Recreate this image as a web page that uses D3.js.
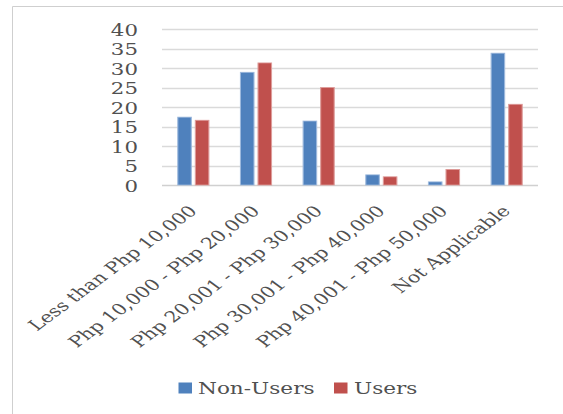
<!DOCTYPE html>
<html>
<head>
<meta charset="utf-8">
<script src="https://cdn.jsdelivr.net/npm/d3@7"></script>
<style>
  html, body { margin: 0; padding: 0; background: #fff; }
  svg { display: block; }
  text { font-family: "DejaVu Serif", serif; fill: #505050; }
</style>
</head>
<body>
<svg id="chart" width="563" height="414"></svg>
<script>
// Monthly income brackets of respondents (%)
const categories = [
  "Less than Php 10,000",
  "Php 10,000 - Php 20,000",
  "Php 20,001 - Php 30,000",
  "Php 30,001 - Php 40,000",
  "Php 40,001 - Php 50,000",
  "Not Applicable"
];
const seriesNames = ["Non-Users", "Users"];
const nonUsers = [17.4, 28.9, 16.4, 2.6, 0.8, 33.8];
const users    = [16.6, 31.3, 25.0, 2.1, 4.0, 20.7];
const yTicks   = [0, 5, 10, 15, 20, 25, 30, 35, 40];
const colors   = ["#4F81BD", "#C0504D"];
const strokes  = ["#9DB9DD", "#DE9C9A"];

const W = 563, H = 414;
const SX = 1.35;              // horizontal stretch of the chart body
const svg = d3.select("#chart");

// outer frame (top and left edges)
svg.append("line").attr("x1", 12.5).attr("x2", W).attr("y1", 6.5).attr("y2", 6.5)
  .attr("stroke", "#cfcfcf");
svg.append("line").attr("x1", 12.5).attr("x2", 12.5).attr("y1", 6.5).attr("y2", H)
  .attr("stroke", "#cfcfcf");

const g = svg.append("g").attr("transform", `scale(${SX},1)`);

const plotLeft = 162 / SX, plotRight = 538 / SX;
const y = d3.scaleLinear().domain([0, 40]).range([185, 29]);
const x0 = d3.scaleBand().domain(categories).range([plotLeft, plotRight]).padding(0);
const x1 = d3.scaleBand().domain(seriesNames).range([0, x0.bandwidth()])
  .paddingInner(0.23).paddingOuter(0.9);

// gridlines
g.append("g").selectAll("line").data(yTicks).join("line")
  .attr("x1", plotLeft).attr("x2", plotRight)
  .attr("y1", d => Math.round(y(d)) + 0.5).attr("y2", d => Math.round(y(d)) + 0.5)
  .attr("stroke", d => d === 0 ? "#d0d0d0" : "#dadada").attr("stroke-width", 1.3);

// y tick labels
g.append("g").selectAll("text").data(yTicks).join("text")
  .attr("x", 138 / SX).attr("y", d => y(d))
  .attr("dy", "0.42em").attr("text-anchor", "end")
  .attr("font-size", 15.8).text(d => d);

// bars
const rows = categories.map((c, i) => ({ c, vals: [nonUsers[i], users[i]] }));
const groups = g.append("g").selectAll("g").data(rows).join("g")
  .attr("transform", d => `translate(${x0(d.c)},0)`);
groups.selectAll("rect").data(d => d.vals.map((v, k) => ({ v, k })))
  .join("rect")
  .attr("x", d => x1(seriesNames[d.k]))
  .attr("width", x1.bandwidth())
  .attr("y", d => y(d.v))
  .attr("height", d => y(0) - y(d.v))
  .attr("fill", d => colors[d.k])
  .attr("stroke", d => strokes[d.k]).attr("stroke-width", 0.8);

// category labels, rotated
g.append("g").selectAll("text").data(categories).join("text")
  .attr("transform", d => `translate(${x0(d) + x0.bandwidth() / 2 + 3.6},${212}) rotate(-45)`)
  .attr("text-anchor", "end").attr("font-size", 15.4)
  .text(d => d);

// legend
const legend = g.append("g");
const legendItems = [
  { name: seriesNames[0], color: colors[0], sq: 178.5, tx: 198 },
  { name: seriesNames[1], color: colors[1], sq: 334, tx: 354 }
];
legend.selectAll("rect").data(legendItems).join("rect")
  .attr("x", d => d.sq / SX).attr("y", 382.5).attr("width", 13.5 / SX).attr("height", 11)
  .attr("fill", d => d.color);
legend.selectAll("text").data(legendItems).join("text")
  .attr("x", d => d.tx / SX).attr("y", 394).attr("font-size", 16)
  .text(d => d.name);
</script>
</body>
</html>
